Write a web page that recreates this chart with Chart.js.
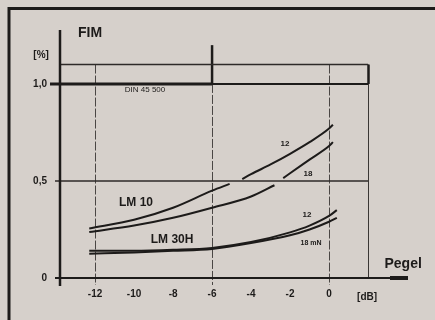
<!DOCTYPE html>
<html>
<head>
<meta charset="utf-8">
<script src="https://cdn.jsdelivr.net/npm/chart.js@4.4.1/dist/chart.umd.min.js"></script>
<style>
  html, body { margin: 0; padding: 0; background: #d6d0cb; }
  #wrap { width: 435px; height: 320px; position: relative; }
</style>
</head>
<body>
<div id="wrap"><canvas id="fim" width="435" height="320"></canvas></div>
<script>
// Pegel in dB, FIM in %
const xTicks = [-12, -10, -8, -6, -4, -2, 0];
const yTicks = [0, 0.5, 1.0];
const yTickLabels = ['0', '0,5', '1,0'];

// LM 10, 12 mN (upper curve, broken at the 0,5 line)
const lm10_12_x = [-12.3, -10, -8, -6, -5.1, null, -4.45, -4, -3, -2, -1, 0, 0.2];
const lm10_12_y = [0.255, 0.30, 0.362, 0.45, 0.485, null, 0.51, 0.535, 0.585, 0.64, 0.70, 0.77, 0.79];
// LM 10, 18 mN
const lm10_18_x = [-12.3, -10, -8, -6, -4, -2.8, null, -2.35, -2, -1, 0, 0.2];
const lm10_18_y = [0.237, 0.27, 0.31, 0.362, 0.42, 0.478, null, 0.515, 0.54, 0.61, 0.68, 0.70];
// LM 30H, 12 mN
const lm30_12_x = [-12.3, -10, -8, -6, -4, -2, -1, 0, 0.4];
const lm30_12_y = [0.14, 0.14, 0.145, 0.155, 0.185, 0.235, 0.27, 0.32, 0.35];
// LM 30H, 18 mN
const lm30_18_x = [-12.3, -10, -8, -6, -4, -2, -1, 0, 0.4];
const lm30_18_y = [0.125, 0.132, 0.14, 0.15, 0.18, 0.22, 0.25, 0.29, 0.31];

// reference levels and frame columns
const limitLevel = 1.0;      // DIN 45 500
const upperLevel = 1.1;
const midLevel = 0.5;
const gridDb = [-12, -6, 0];
const frameDb = 2;

const ink = '#1d1b1a';
const pts = (xs, ys) => xs.map((x, i) => (x === null ? { x: NaN, y: null } : { x: x, y: ys[i] }));

function curve(xs, ys) {
  return {
    data: pts(xs, ys),
    borderColor: ink,
    borderWidth: 2,
    pointRadius: 0,
    tension: 0.4,
    cubicInterpolationMode: 'monotone',
    spanGaps: false,
    fill: false
  };
}

// texts placed in data units (dB, %)
const notes = [
  { text: 'LM 10', x: -9.9, y: 0.39, font: 'bold 12px "Liberation Sans", Arial, sans-serif' },
  { text: 'LM 30H', x: -8.05, y: 0.196, font: 'bold 12px "Liberation Sans", Arial, sans-serif' },
  { text: '12', x: -2.26, y: 0.69, font: 'bold 8px "Liberation Sans", Arial, sans-serif' },
  { text: '18', x: -1.08, y: 0.536, font: 'bold 8px "Liberation Sans", Arial, sans-serif' },
  { text: '12', x: -1.13, y: 0.325, font: 'bold 8px "Liberation Sans", Arial, sans-serif' },
  { text: '18 mN', x: -0.92, y: 0.18, font: 'bold 7px "Liberation Sans", Arial, sans-serif' },
  { text: 'DIN 45 500', x: -9.44, y: 0.968, font: '8px "Liberation Sans", Arial, sans-serif' },
  { text: 'FIM', x: -12.26, y: 1.262, font: 'bold 14px "Liberation Sans", Arial, sans-serif' },
  { text: 'Pegel', x: 3.8, y: 0.072, font: 'bold 14px "Liberation Sans", Arial, sans-serif' },
  { text: '[%]', x: -14.77, y: 1.15, font: 'bold 10px "Liberation Sans", Arial, sans-serif' },
  { text: '[dB]', x: 1.95, y: -0.098, font: 'bold 10px "Liberation Sans", Arial, sans-serif' }
];

const frameLines = {
  id: 'frameLines',
  beforeDatasetsDraw(chart) {
    const ctx = chart.ctx;
    const xs = chart.scales.x, ys = chart.scales.y;
    const X = v => xs.getPixelForValue(v);
    const Y = v => ys.getPixelForValue(v);
    const left = chart.chartArea.left;
    const bottom = Y(0);
    ctx.save();
    ctx.lineCap = 'butt';

    // outer page frame
    ctx.strokeStyle = ink;
    ctx.lineWidth = 3;
    ctx.beginPath();
    ctx.moveTo(9, 320); ctx.lineTo(9, 8.5); ctx.lineTo(435, 8.5);
    ctx.stroke();

    // vertical thin rules
    ctx.strokeStyle = '#4a4644';
    ctx.lineWidth = 1;
    ctx.setLineDash([9, 2]);
    gridDb.forEach(d => {
      const px = Math.round(X(d)) + 0.5;
      ctx.beginPath();
      ctx.moveTo(px, d === -6 ? Y(limitLevel) : Y(upperLevel));
      ctx.lineTo(px, bottom + 7);
      ctx.stroke();
    });
    ctx.setLineDash([]);
    // right frame column
    const fx = Math.round(X(frameDb)) + 0.5;
    ctx.strokeStyle = '#3a3634';
    ctx.beginPath();
    ctx.moveTo(fx, Y(upperLevel)); ctx.lineTo(fx, bottom);
    ctx.stroke();
    ctx.lineWidth = 2.5;
    ctx.strokeStyle = ink;
    ctx.beginPath();
    ctx.moveTo(fx, Y(upperLevel)); ctx.lineTo(fx, Y(limitLevel));
    ctx.stroke();
    // thick marker at -6 dB above the limit
    ctx.lineWidth = 2.5;
    ctx.beginPath();
    ctx.moveTo(X(-6), Y(1.2)); ctx.lineTo(X(-6), Y(limitLevel));
    ctx.stroke();

    // horizontal rules
    ctx.strokeStyle = '#2e2a28';
    ctx.lineWidth = 1.5;
    ctx.beginPath();
    ctx.moveTo(left, Y(upperLevel)); ctx.lineTo(X(frameDb), Y(upperLevel));
    ctx.stroke();
    ctx.beginPath();
    ctx.moveTo(left - 5, Y(midLevel)); ctx.lineTo(X(frameDb), Y(midLevel));
    ctx.stroke();
    ctx.strokeStyle = ink;
    ctx.lineWidth = 3;
    ctx.beginPath();
    ctx.moveTo(left - 10, Y(limitLevel)); ctx.lineTo(X(-6), Y(limitLevel));
    ctx.stroke();
    ctx.lineWidth = 2;
    ctx.beginPath();
    ctx.moveTo(X(-6), Y(limitLevel)); ctx.lineTo(X(frameDb), Y(limitLevel));
    ctx.stroke();
    ctx.restore();
  },
  afterDatasetsDraw(chart) {
    const ctx = chart.ctx;
    const xs = chart.scales.x, ys = chart.scales.y;
    const X = v => xs.getPixelForValue(v);
    const Y = v => ys.getPixelForValue(v);
    const area = chart.chartArea;
    const bottom = Y(0);
    ctx.save();
    ctx.strokeStyle = ink;
    // y axis
    ctx.lineWidth = 2.5;
    ctx.beginPath();
    ctx.moveTo(area.left, area.top); ctx.lineTo(area.left, bottom + 8);
    ctx.stroke();
    // x axis with arrow end
    ctx.lineWidth = 2;
    ctx.beginPath();
    ctx.moveTo(area.left - 5, bottom); ctx.lineTo(area.right, bottom);
    ctx.stroke();
    ctx.lineWidth = 4;
    ctx.beginPath();
    ctx.moveTo(area.right - 18, bottom); ctx.lineTo(area.right, bottom);
    ctx.stroke();

    // texts
    ctx.fillStyle = ink;
    ctx.textAlign = 'center';
    ctx.textBaseline = 'middle';
    notes.forEach(n => {
      ctx.font = n.font;
      ctx.fillText(n.text, X(n.x), Y(n.y));
    });
    ctx.restore();
  }
};

new Chart(document.getElementById('fim'), {
  type: 'line',
  data: {
    datasets: [
      curve(lm10_12_x, lm10_12_y),
      curve(lm10_18_x, lm10_18_y),
      curve(lm30_12_x, lm30_12_y),
      curve(lm30_18_x, lm30_18_y)
    ]
  },
  options: {
    responsive: false,
    animation: false,
    events: [],
    layout: { padding: { top: 30, right: 27, left: 0, bottom: 0 } },
    plugins: { legend: { display: false }, tooltip: { enabled: false } },
    scales: {
      x: {
        type: 'linear',
        min: -13.8,
        max: 4.05,
        grid: { display: false, drawTicks: false },
        border: { display: false },
        afterBuildTicks: s => { s.ticks = xTicks.map(v => ({ value: v })); },
        afterFit: s => { s.height = 42; },
        ticks: {
          padding: 10,
          color: ink,
          font: { family: '"Liberation Sans", Arial, sans-serif', size: 10, weight: 'bold' },
          callback: v => String(v)
        }
      },
      y: {
        type: 'linear',
        min: 0,
        max: 1.278,
        grid: { display: false, drawTicks: false },
        border: { display: false },
        afterBuildTicks: s => { s.ticks = yTicks.map(v => ({ value: v })); },
        afterFit: s => { s.width = 60; },
        ticks: {
          padding: 13,
          color: ink,
          font: { family: '"Liberation Sans", Arial, sans-serif', size: 10, weight: 'bold' },
          callback: v => yTickLabels[yTicks.indexOf(v)]
        }
      }
    }
  },
  plugins: [frameLines]
});
</script>
</body>
</html>
